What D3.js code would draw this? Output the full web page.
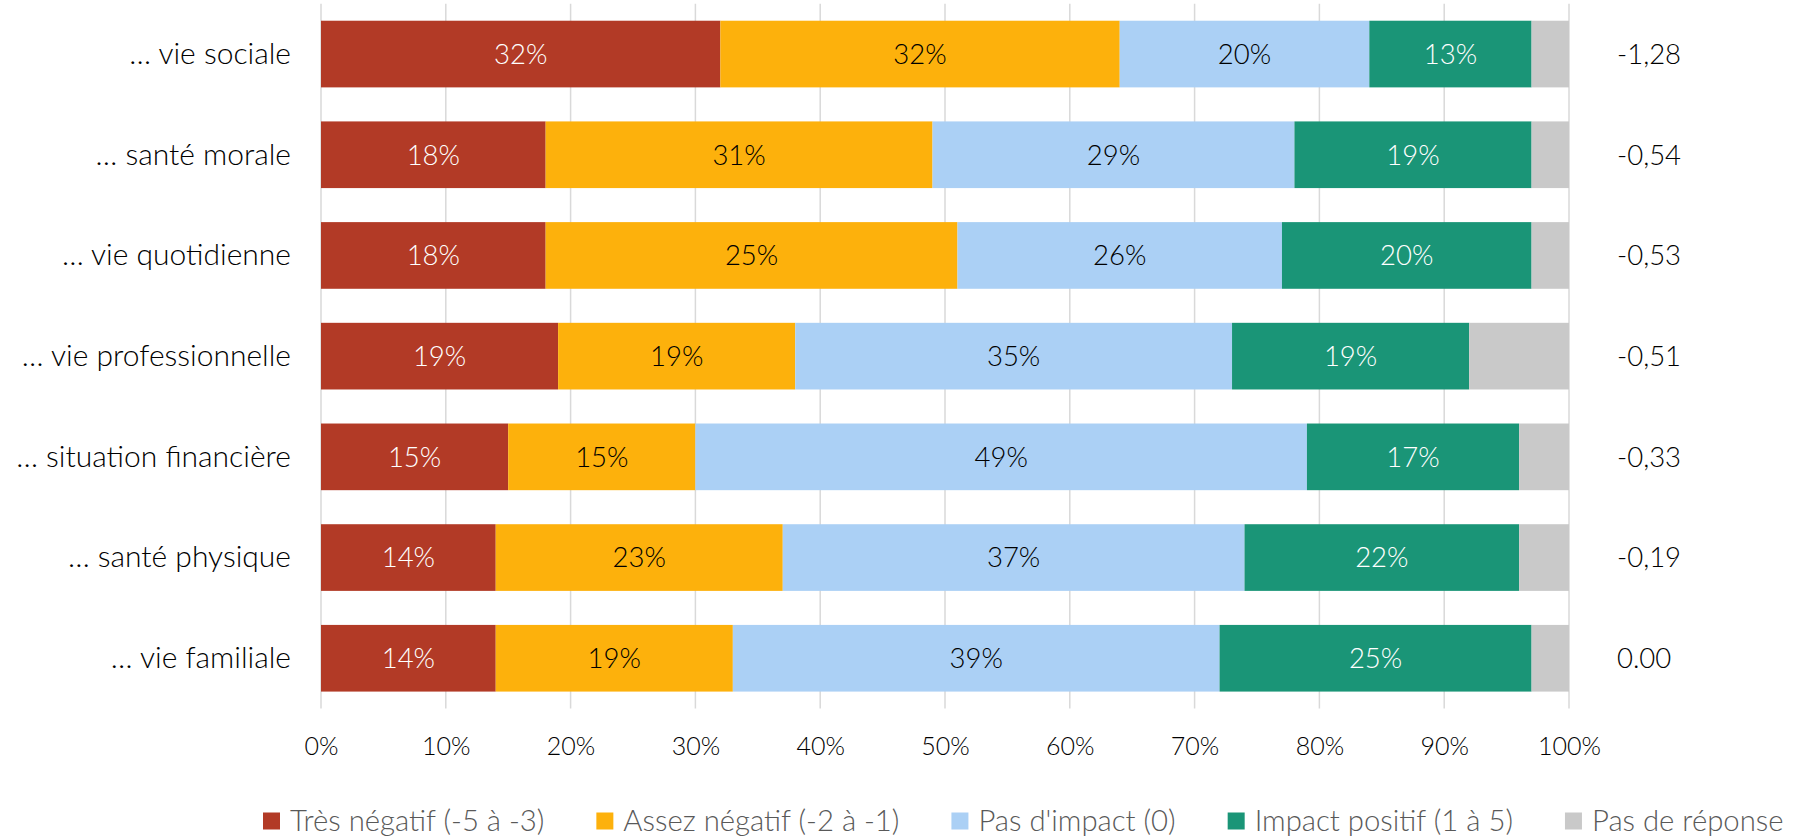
<!DOCTYPE html>
<html>
<head>
<meta charset="utf-8">
<script src="https://cdn.jsdelivr.net/npm/d3@7"></script>
<style>
  body { margin: 0; background: #fff; }
  text { font-family: Lato, "Open Sans", sans-serif; font-weight: 300; }
</style>
</head>
<body>
<svg id="chart" width="1801" height="837"></svg>
<script>
// categories, top to bottom
var categories = ["… vie sociale", "… santé morale", "… vie quotidienne", "… vie professionnelle",
                  "… situation financière", "… santé physique", "… vie familiale"]
var scores = ["-1,28", "-0,54", "-0,53", "-0,51", "-0,33", "-0,19", "0.00"]

// series values (percent, bar widths as drawn)
var tresNegatif   = [32, 18, 18, 19, 15, 14, 14]
var assezNegatif  = [32, 31, 33, 19, 15, 23, 19]
var pasImpact     = [20, 29, 26, 35, 49, 37, 39]
var impactPositif = [13, 19, 20, 19, 17, 22, 25]
var pasReponse    = [3, 3, 3, 8, 4, 4, 3]

// printed labels (the source prints 25% on the 3rd orange bar)
var assezNegatifLabels = [32, 31, 25, 19, 15, 23, 19]

var seriesNames = ["Très négatif (-5 à -3)", "Assez négatif (-2 à -1)", "Pas d'impact (0)",
                   "Impact positif (1 à 5)", "Pas de réponse"]
var seriesColors = ["#B23A26", "#FDB10C", "#ABD0F5", "#1A9577", "#C9C9C9"]
var textColors = ["#fff", "#000", "#000", "#fff", null]
var xTicks = [0, 10, 20, 30, 40, 50, 60, 70, 80, 90, 100]

var seriesValues = [tresNegatif, assezNegatif, pasImpact, impactPositif, pasReponse]
var seriesLabels = [tresNegatif, assezNegatifLabels, pasImpact, impactPositif, null]

var svg = d3.select("#chart")

var x = d3.scaleLinear().domain([0, 100]).range([321, 1569])
var y = d3.scaleBand().domain(categories).range([3.7, 708.6])
  .paddingInner(0.338).paddingOuter(0.169)

// gridlines
svg.append("g")
  .selectAll("line")
  .data(xTicks)
  .enter()
  .append("line")
  .attr("x1", function(d){ return x(d) })
  .attr("x2", function(d){ return x(d) })
  .attr("y1", y.range()[0])
  .attr("y2", y.range()[1])
  .style("stroke", "#D9D9D9")
  .style("stroke-width", 1.5)

// build stacked rows
var rows = categories.map(function(c, i){
  var row = {cat: c}
  seriesNames.forEach(function(s, j){ row[s] = seriesValues[j][i] })
  return row
})
var stacked = d3.stack().keys(seriesNames)(rows)

var layers = svg.append("g")
  .selectAll("g")
  .data(stacked)
  .enter()
  .append("g")
  .attr("fill", function(d, i){ return seriesColors[i] })

layers.selectAll("rect")
  .data(function(d){ return d })
  .enter()
  .append("rect")
  .attr("x", function(d){ return x(d[0]) })
  .attr("y", function(d){ return y(d.data.cat) })
  .attr("width", function(d){ return x(d[1]) - x(d[0]) })
  .attr("height", y.bandwidth())

// value labels inside bars
stacked.forEach(function(layer, j){
  if (!seriesLabels[j]) return
  svg.append("g")
    .selectAll("text")
    .data(layer)
    .enter()
    .append("text")
    .attr("x", function(d){ return (x(d[0]) + x(d[1])) / 2 })
    .attr("y", function(d){ return y(d.data.cat) + y.bandwidth() / 2 })
    .attr("dy", "0.36em")
    .attr("text-anchor", "middle")
    .attr("fill", textColors[j])
    .style("font-size", "27.5px")
    .text(function(d, i){ return seriesLabels[j][i] + "%" })
})

// category labels
svg.append("g")
  .selectAll("text")
  .data(categories)
  .enter()
  .append("text")
  .attr("x", 291)
  .attr("y", function(d){ return y(d) + y.bandwidth() / 2 })
  .attr("dy", "0.33em")
  .attr("text-anchor", "end")
  .attr("fill", "#000")
  .style("font-size", "30px")
  .text(function(d){ return d })

// scores column
svg.append("g")
  .selectAll("text")
  .data(scores)
  .enter()
  .append("text")
  .attr("x", 1617)
  .attr("y", function(d, i){ return y(categories[i]) + y.bandwidth() / 2 })
  .attr("dy", "0.36em")
  .attr("fill", "#000")
  .style("font-size", "27.5px")
  .text(function(d){ return d })

// x axis
var xAxis = svg.append("g")
  .attr("transform", "translate(0,734)")
  .call(d3.axisBottom(x).tickValues(xTicks).tickSize(0).tickFormat(function(d){ return d + "%" }))
xAxis.select(".domain").remove()
xAxis.selectAll("text")
  .style("font-family", "Lato, 'Open Sans', sans-serif")
  .style("font-weight", 300)
  .style("font-size", "25px")
  .attr("fill", "#000")

// legend
var legend = svg.append("g").attr("transform", "translate(263,821)")
var lx = 0
seriesNames.forEach(function(s, i){
  var item = legend.append("g").attr("transform", "translate(" + lx + ",0)")
  item.append("rect")
    .attr("x", 0).attr("y", -8.5)
    .attr("width", 17).attr("height", 17)
    .attr("fill", seriesColors[i])
  var t = item.append("text")
    .attr("x", 27)
    .attr("dy", "0.35em")
    .attr("fill", "#595959")
    .style("font-size", "29.3px")
    .text(s)
  lx += 27 + t.node().getComputedTextLength() + 52
})
</script>
</body>
</html>
